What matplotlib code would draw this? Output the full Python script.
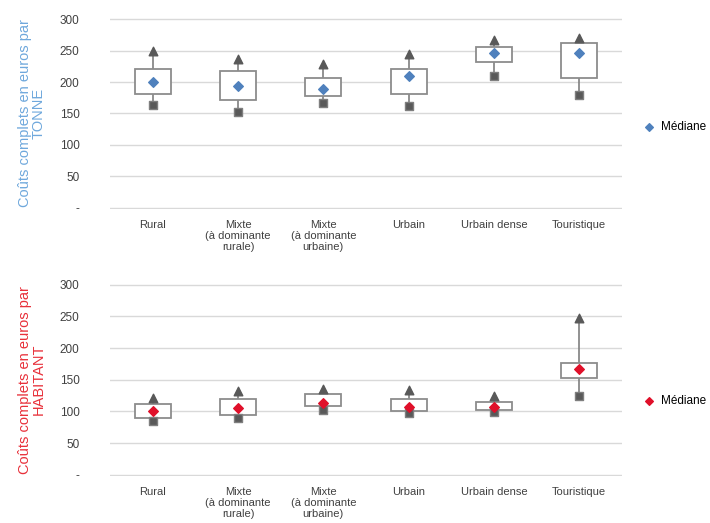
import numpy as np
import matplotlib
matplotlib.use("Agg")
import matplotlib.pyplot as plt
from matplotlib.patches import Rectangle

# -------- DATA --------
categories = ["Rural", "Mixte\n(à dominante\nrurale)", "Mixte\n(à dominante\nurbaine)",
              "Urbain", "Urbain dense", "Touristique"]

# cost per tonne
tonne_min = [164, 153, 167, 162, 210, 179]
tonne_q1 = [181, 172, 178, 181, 232, 206]
tonne_med = [200, 194, 189, 210, 246, 246]
tonne_q3 = [220, 217, 206, 220, 256, 262]
tonne_max = [250, 237, 228, 245, 266, 270]

# cost per inhabitant
hab_min = [84, 89, 102, 97, 99, 124]
hab_q1 = [90, 94, 108, 101, 102, 152]
hab_med = [101, 105, 113, 107, 107, 167]
hab_q3 = [111, 119, 128, 120, 115, 176]
hab_max = [121, 132, 135, 133, 124, 248]

yticks = [0, 50, 100, 150, 200, 250, 300]
ytick_labels = ["-", "50", "100", "150", "200", "250", "300"]

plt.rcParams["font.family"] = ["Liberation Sans", "DejaVu Sans"]

fig = plt.figure(figsize=(7.1, 5.23), dpi=100)
ax1 = fig.add_axes([0.155, 0.600, 0.721, 0.366])
ax2 = fig.add_axes([0.155, 0.090, 0.721, 0.368])


def draw_panel(ax, mins, q1, med, q3, maxs, med_color, ylabel, ycolor, leg_y):
    x = np.arange(len(categories))
    w = 0.42
    for i in x:
        ax.plot([i, i], [q3[i], maxs[i]], color="#7f7f7f", lw=1.2, zorder=2)
        ax.plot([i, i], [mins[i], q1[i]], color="#7f7f7f", lw=1.2, zorder=2)
        ax.add_patch(Rectangle((i - w / 2, q1[i]), w, q3[i] - q1[i],
                               facecolor="white", edgecolor="#8c8c8c", lw=1.3, zorder=3))
    ax.scatter(x, maxs, marker="^", s=38, color="#595959", zorder=4)
    ax.scatter(x, mins, marker="s", s=34, color="#595959", edgecolor="#7f7f7f", zorder=4)
    ax.scatter(x, med, marker="D", s=24, color=med_color, zorder=5, label="Médiane")

    ax.set_xlim(-0.5, len(categories) - 0.5)
    ax.set_ylim(-2, 302)
    ax.set_yticks(yticks)
    ax.set_yticklabels(ytick_labels, fontsize=8.5, color="#404040")
    ax.set_xticks(x)
    ax.set_xticklabels(categories, fontsize=8, color="#404040", linespacing=1.1)
    ax.tick_params(length=0, pad=8)
    ax.tick_params(axis="y", pad=22)
    ax.grid(axis="y", color="#d9d9d9", lw=1)
    ax.set_axisbelow(True)
    for s in ax.spines.values():
        s.set_visible(False)
    ax.set_ylabel(ylabel, fontsize=10.5, color=ycolor, labelpad=10, linespacing=1.0)
    ax.legend(loc="center left", bbox_to_anchor=(1.02, leg_y), frameon=False,
              fontsize=8.5, handletextpad=0.0, markerscale=0.8, borderaxespad=0)


draw_panel(ax1, tonne_min, tonne_q1, tonne_med, tonne_q3, tonne_max,
           "#4f81bd", "Coûts complets en euros par\nTONNE", "#6fa8dc", 0.43)
draw_panel(ax2, hab_min, hab_q1, hab_med, hab_q3, hab_max,
           "#e0102a", "Coûts complets en euros par\nHABITANT", "#e8303a", 0.39)

fig.savefig("out.png", dpi=100)
